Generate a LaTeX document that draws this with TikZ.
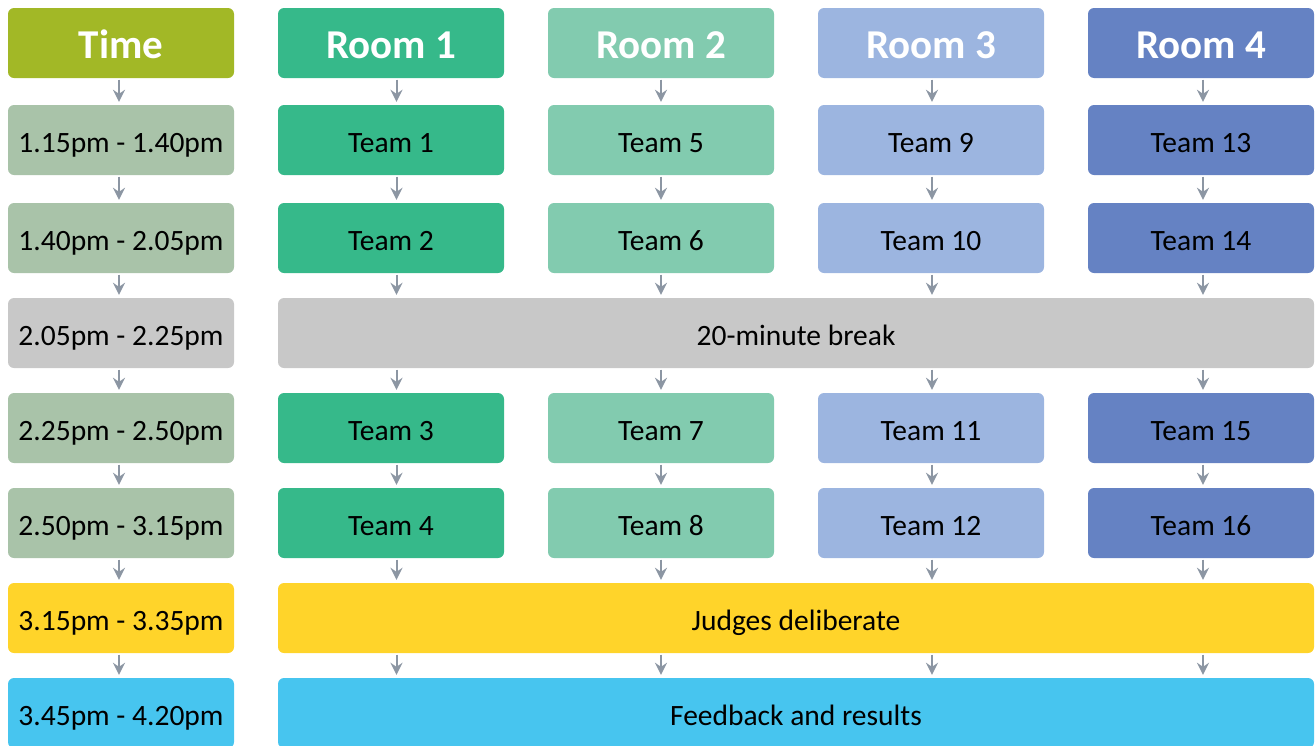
\documentclass[tikz,border=0pt]{standalone}
\usepackage{fontspec}
\setmainfont{Carlito}
\usetikzlibrary{arrows.meta}
\definecolor{ctime}{HTML}{A2B826}
\definecolor{cr1}{HTML}{36B98A}
\definecolor{cr2}{HTML}{82CBAF}
\definecolor{cr3}{HTML}{9CB5E0}
\definecolor{cr4}{HTML}{6582C3}
\definecolor{ctrow}{HTML}{A9C3A9}
\definecolor{cbreak}{HTML}{C8C8C8}
\definecolor{cjudge}{HTML}{FFD42A}
\definecolor{cfeed}{HTML}{47C5EF}
\definecolor{carrow}{HTML}{8C96A3}
\tikzset{
  box/.style={rectangle, rounded corners=6pt, minimum width=226pt, minimum height=70pt, inner sep=0pt, text=black, font=\fontsize{29.5}{31}\selectfont, text height=24pt, text depth=0pt},
  wide/.style={box, minimum width=1036pt},
  head/.style={box, text=white, font=\fontsize{41}{43}\selectfont\bfseries, text height=30pt, text depth=0pt},
  arr/.style={draw=carrow, line width=2pt, -{Stealth[length=12pt,width=12pt,inset=4pt]}, shorten <=1.5pt, shorten >=3pt},
}
\begin{document}
\begin{tikzpicture}[x=1pt,y=-1pt]
\useasboundingbox (0,0) rectangle (1315,745);
\clip (0,0) rectangle (1315,745);
% headers
\node[head, fill=ctime] (h0) at (121,43) {Time};
\node[head, fill=cr1] (h1) at (391,43) {Room 1};
\node[head, fill=cr2] (h2) at (661,43) {Room 2};
\node[head, fill=cr3] (h3) at (931,43) {Room 3};
\node[head, fill=cr4] (h4) at (1201,43) {Room 4};
% time column
\node[box, fill=ctrow] (t1) at (121,140) {1.15pm - 1.40pm};
\node[box, fill=ctrow] (t2) at (121,238) {1.40pm - 2.05pm};
\node[box, fill=cbreak] (t3) at (121,333) {2.05pm - 2.25pm};
\node[box, fill=ctrow] (t4) at (121,428) {2.25pm - 2.50pm};
\node[box, fill=ctrow] (t5) at (121,523) {2.50pm - 3.15pm};
\node[box, fill=cjudge] (t6) at (121,618) {3.15pm - 3.35pm};
\node[box, fill=cfeed] (t7) at (121,713) {3.45pm - 4.20pm};
% teams
\node[box, fill=cr1] (a1) at (391,140) {Team 1};
\node[box, fill=cr1] (a2) at (391,238) {Team 2};
\node[box, fill=cr1] (a3) at (391,428) {Team 3};
\node[box, fill=cr1] (a4) at (391,523) {Team 4};
\node[box, fill=cr2] (b1) at (661,140) {Team 5};
\node[box, fill=cr2] (b2) at (661,238) {Team 6};
\node[box, fill=cr2] (b3) at (661,428) {Team 7};
\node[box, fill=cr2] (b4) at (661,523) {Team 8};
\node[box, fill=cr3] (c1) at (931,140) {Team 9};
\node[box, fill=cr3] (c2) at (931,238) {Team 10};
\node[box, fill=cr3] (c3) at (931,428) {Team 11};
\node[box, fill=cr3] (c4) at (931,523) {Team 12};
\node[box, fill=cr4] (d1) at (1201,140) {Team 13};
\node[box, fill=cr4] (d2) at (1201,238) {Team 14};
\node[box, fill=cr4] (d3) at (1201,428) {Team 15};
\node[box, fill=cr4] (d4) at (1201,523) {Team 16};
% wide
\node[wide, fill=cbreak] (brk) at (796,333) {20-minute break};
\node[wide, fill=cjudge] (jdg) at (796,618) {Judges deliberate};
\node[wide, fill=cfeed] (fb) at (796,713) {Feedback and results};
% arrows time column
\foreach \u/\v in {h0/t1, t1/t2, t2/t3, t3/t4, t4/t5, t5/t6, t6/t7}{
  \draw[arr] ([xshift=-2pt]\u.south) -- ([xshift=-2pt]\v.north);
}
% room columns
\foreach \h/\p/\dx in {h1/a/5.5, h2/b/0, h3/c/1, h4/d/2}{
  \draw[arr] ([xshift=\dx pt]\h.south) -- ([xshift=\dx pt]\p1.north);
  \draw[arr] ([xshift=\dx pt]\p1.south) -- ([xshift=\dx pt]\p2.north);
  \draw[arr] ([xshift=\dx pt]\p2.south) -- ([xshift=\dx pt]\p2.south |- brk.north);
  \draw[arr] ([xshift=\dx pt]\p3.north |- brk.south) -- ([xshift=\dx pt]\p3.north);
  \draw[arr] ([xshift=\dx pt]\p3.south) -- ([xshift=\dx pt]\p4.north);
  \draw[arr] ([xshift=\dx pt]\p4.south) -- ([xshift=\dx pt]\p4.south |- jdg.north);
  \draw[arr] ([xshift=\dx pt]\p4.south |- jdg.south) -- ([xshift=\dx pt]\p4.south |- fb.north);
}
\end{tikzpicture}
\end{document}
